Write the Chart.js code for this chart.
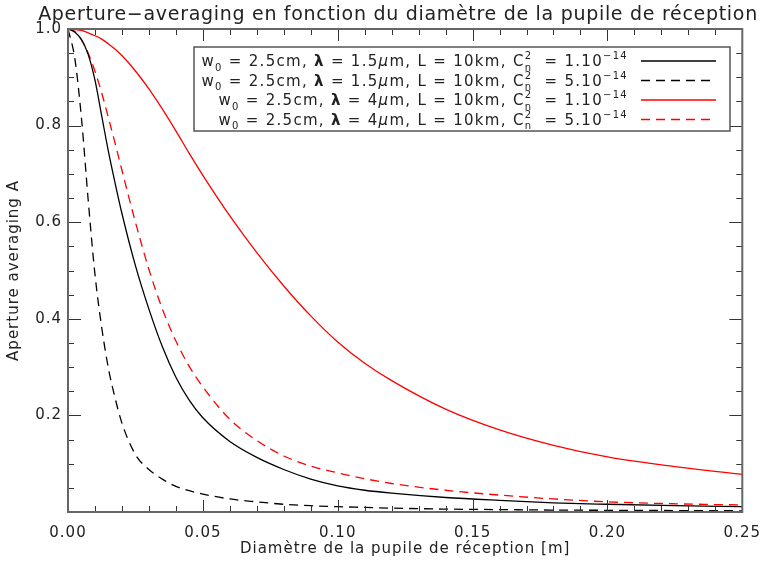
<!DOCTYPE html>
<html>
<head>
<meta charset="utf-8">
<script src="https://cdn.jsdelivr.net/npm/chart.js@4.4.1/dist/chart.umd.min.js"></script>
<style>
  body { margin: 0; background: #fff; }
  canvas { display: block; }
</style>
</head>
<body>
<canvas id="chart" width="773" height="566"></canvas>
<script>
// diametre de la pupille (m)
const X_VALUES = [0, 0.0025, 0.005, 0.0075, 0.01, 0.0125, 0.015, 0.0175, 0.02, 0.025, 0.03, 0.035, 0.04, 0.045,
  0.05, 0.06, 0.07, 0.08, 0.09, 0.10, 0.11, 0.12, 0.14, 0.16, 0.18, 0.20, 0.225, 0.25];

// lambda = 1.5um, Cn2 = 1e-14
const A_15_1 = [1.0, 0.994, 0.978, 0.947, 0.894, 0.82, 0.746, 0.68, 0.618, 0.51, 0.42, 0.342, 0.279, 0.231,
  0.195, 0.146, 0.113, 0.088, 0.068, 0.054, 0.045, 0.039, 0.030, 0.024, 0.019, 0.016, 0.013, 0.011];
// lambda = 1.5um, Cn2 = 5e-14
const A_15_5 = [1.0, 0.94, 0.815, 0.645, 0.492, 0.382, 0.297, 0.235, 0.184, 0.119, 0.088, 0.068, 0.053, 0.044,
  0.037, 0.027, 0.021, 0.016, 0.013, 0.011, 0.0095, 0.008, 0.006, 0.005, 0.004, 0.0035, 0.003, 0.0025];
// lambda = 4um, Cn2 = 1e-14
const A_4_1 = [1.0, 0.999, 0.997, 0.992, 0.986, 0.979, 0.969, 0.958, 0.945, 0.913, 0.876, 0.834, 0.789, 0.742,
  0.697, 0.613, 0.537, 0.468, 0.406, 0.352, 0.308, 0.272, 0.213, 0.170, 0.138, 0.114, 0.094, 0.078];
// lambda = 4um, Cn2 = 5e-14
const A_4_5 = [1.0, 0.995, 0.9775, 0.95, 0.9125, 0.8675, 0.816, 0.7625, 0.7075, 0.600, 0.5025, 0.42, 0.354, 0.301,
  0.259, 0.192, 0.148, 0.116, 0.095, 0.081, 0.069, 0.059, 0.045, 0.035, 0.027, 0.021, 0.017, 0.0145];

const LAMBDAS = ['1.5', '1.5', '4', '4'];
const CN2 = ['1', '5', '1', '5'];

const TITLE = 'Aperture\u2212averaging en fonction du diamètre de la pupile de réception';
const X_TITLE = 'Diamètre de la pupile de réception [m]';
const Y_TITLE = 'Aperture averaging A';

const FONT = 'DejaVu Sans';
const TEXT_COLOR = '#222';
const DASH = [9, 6];

function points(ys) {
  return X_VALUES.map((x, i) => ({ x: x, y: ys[i] }));
}

function makeSet(ys, color, dashed) {
  return {
    data: points(ys),
    borderColor: color,
    borderWidth: 1.3,
    borderDash: dashed ? DASH : [],
    pointRadius: 0,
    fill: false,
    cubicInterpolationMode: 'monotone'
  };
}

// espacement des lettres, comme la police IDL
const spacingPlugin = {
  id: 'spacing',
  beforeLayout(chart) { chart.ctx.letterSpacing = '1px'; },
  beforeDraw(chart) { chart.ctx.letterSpacing = '1px'; }
};

// cadre + graduations vers l'interieur (style IDL)
const framePlugin = {
  id: 'frame',
  afterDatasetsDraw(chart) {
    const { ctx, chartArea: a, scales: { x, y } } = chart;
    ctx.save();
    ctx.strokeStyle = '#333';
    ctx.lineWidth = 1;
    ctx.beginPath();
    for (let i = 0; i <= 25; i++) {
      const px = Math.round(x.getPixelForValue(i / 100)) + 0.5;
      const len = i % 5 === 0 ? 12 : 6;
      ctx.moveTo(px, a.bottom); ctx.lineTo(px, a.bottom - len);
      ctx.moveTo(px, a.top); ctx.lineTo(px, a.top + len);
    }
    for (let i = 0; i <= 20; i++) {
      const py = Math.round(y.getPixelForValue(i / 20)) + 0.5;
      const len = i % 4 === 0 ? 13 : 6;
      ctx.moveTo(a.left, py); ctx.lineTo(a.left + len, py);
      ctx.moveTo(a.right, py); ctx.lineTo(a.right - len, py);
    }
    ctx.stroke();
    ctx.strokeStyle = '#666';
    ctx.lineWidth = 2;
    ctx.strokeRect(a.left, a.top, a.right - a.left, a.bottom - a.top);
    ctx.restore();
  }
};

const titlePlugin = {
  id: 'bigTitle',
  afterDraw(chart) {
    const ctx = chart.ctx;
    ctx.save();
    ctx.letterSpacing = '0.7px';
    ctx.font = '19px "' + FONT + '"';
    ctx.fillStyle = TEXT_COLOR;
    ctx.textAlign = 'center';
    ctx.textBaseline = 'alphabetic';
    ctx.fillText(TITLE, 398, 20);
    ctx.restore();
  }
};

function rowParts(lam, cn) {
  return [
    { t: 'w' }, { t: '0', sub: true }, { t: ' = 2.5cm, ' }, { t: 'λ', bold: true },
    { t: ' = ' + lam }, { t: 'μ', italic: true }, { t: 'm, L = 10km, C' },
    { sup: '2', sub: 'n' }, { t: '  = ' + cn + '.10' }, { t: '\u221214', sup: true }
  ];
}

function partFont(p, size) {
  const s = (p.sub || p.sup) ? Math.round(size * 0.65) : size;
  return (p.italic ? 'italic ' : '') + (p.bold ? 'bold ' : '') + s + 'px "' + FONT + '"';
}

function drawRich(ctx, parts, right, base, size) {
  const widths = parts.map(p => {
    if (p.t === undefined) {
      ctx.font = partFont({ sub: true }, size);
      return Math.max(ctx.measureText(p.sup).width, ctx.measureText(p.sub).width);
    }
    ctx.font = partFont(p, size);
    return ctx.measureText(p.t).width;
  });
  let x = right - widths.reduce((s, w) => s + w, 0);
  parts.forEach((p, i) => {
    if (p.t === undefined) {
      ctx.font = partFont({ sub: true }, size);
      ctx.fillText(p.sup, x, base - size * 0.45);
      ctx.fillText(p.sub, x, base + size * 0.3);
    } else {
      ctx.font = partFont(p, size);
      const dy = p.sub ? size * 0.3 : (p.sup ? -size * 0.45 : 0);
      ctx.fillText(p.t, x, base + dy);
    }
    x += widths[i];
  });
}

const legendPlugin = {
  id: 'richLegend',
  afterDraw(chart) {
    const ctx = chart.ctx;
    ctx.save();
    ctx.letterSpacing = '1.3px';
    ctx.fillStyle = '#fff';
    ctx.fillRect(194, 47, 536, 84);
    ctx.strokeStyle = '#555';
    ctx.lineWidth = 1.5;
    ctx.strokeRect(194, 47, 536, 84);
    ctx.textAlign = 'left';
    ctx.textBaseline = 'alphabetic';
    chart.data.datasets.forEach((ds, i) => {
      const base = 66 + i * 19.5;
      ctx.fillStyle = TEXT_COLOR;
      drawRich(ctx, rowParts(LAMBDAS[i], CN2[i]), 628, base, 15);
      ctx.strokeStyle = ds.borderColor;
      ctx.lineWidth = ds.borderWidth;
      ctx.setLineDash(ds.borderDash);
      ctx.beginPath();
      ctx.moveTo(641, base - 5);
      ctx.lineTo(716, base - 5);
      ctx.stroke();
      ctx.setLineDash([]);
    });
    ctx.restore();
  }
};

new Chart(document.getElementById('chart'), {
  type: 'line',
  data: {
    datasets: [
      makeSet(A_15_1, '#000', false),
      makeSet(A_15_5, '#000', true),
      makeSet(A_4_1, '#ff0000', false),
      makeSet(A_4_5, '#ff0000', true)
    ]
  },
  options: {
    responsive: false,
    animation: false,
    layout: { padding: { top: 29, right: 30, left: 0, bottom: 0 } },
    plugins: {
      legend: { display: false },
      tooltip: { enabled: false },
      title: { display: false }
    },
    scales: {
      x: {
        type: 'linear', min: 0, max: 0.25,
        grid: { display: false, drawTicks: false },
        border: { display: false },
        ticks: {
          stepSize: 0.05, maxRotation: 0, padding: 12, color: TEXT_COLOR,
          font: { family: FONT, size: 15 },
          callback: v => v.toFixed(2)
        },
        title: {
          display: true, text: X_TITLE, color: TEXT_COLOR,
          font: { family: FONT, size: 15 }, padding: { top: 0, bottom: 8 }
        },
        afterFit: s => { s.height = 54; }
      },
      y: {
        type: 'linear', min: 0, max: 1,
        grid: { display: false, drawTicks: false },
        border: { display: false },
        ticks: {
          stepSize: 0.2, padding: 6, color: TEXT_COLOR,
          font: { family: FONT, size: 15 },
          callback: v => Math.abs(v) < 1e-9 ? '' : v.toFixed(1)
        },
        title: {
          display: true, text: Y_TITLE, color: TEXT_COLOR,
          font: { family: FONT, size: 15 }, padding: { top: 5, bottom: 0 }
        },
        afterFit: s => { s.width = 68; }
      }
    }
  },
  plugins: [spacingPlugin, framePlugin, titlePlugin, legendPlugin]
});
</script>
</body>
</html>
